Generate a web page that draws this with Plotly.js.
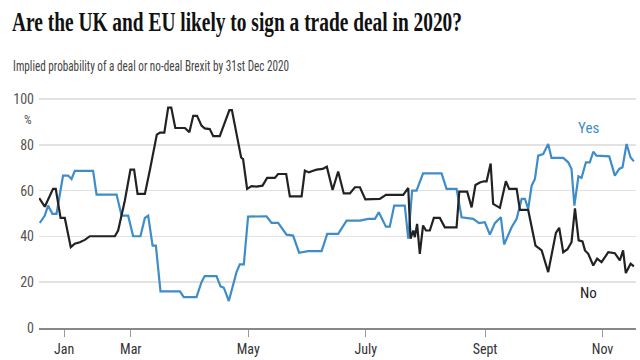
<!DOCTYPE html>
<html>
<head>
<meta charset="utf-8">
<script src="https://cdn.plot.ly/plotly-3.0.1.min.js"></script>
<style>
  html, body { margin: 0; padding: 0; background: #fff; }
  #chart { width: 640px; height: 360px; }
</style>
</head>
<body>
<div id="chart"></div>
<script>
// x values are days since 1 Jan 2020
const noDays = [12.4,15.3,19.6,21.0,23.5,25.7,28.8,30.9,33.5,36.1,38.7,51.7,53.4,56.9,59.8,61.7,63.5,67.3,69.9,73.5,75.2,77.4,79.4,81.0,83.1,88.1,90.4,92.4,94.4,96.7,98.4,101.0,102.8,106.2,111.2,112.5,117.3,118.3,120.4,122.7,125.3,128.4,130.8,134.8,136.5,140.7,142.6,148.7,150.4,152.5,154.7,156.5,159.6,161.8,164.8,167.7,170.6,173.8,176.4,179.0,181.8,189.3,192.5,201.5,204.1,205.3,206.7,207.5,208.7,210.1,211.8,213.3,215.3,217.4,220.5,223.1,229.2,230.6,234.7,237.0,239.0,241.3,243.4,244.8,246.9,248.2,251.7,254.8,256.5,260.4,262.1,266.4,270.2,273.4,276.8,280.8,282.5,284.6,286.8,288.9,290.7,292.6,294.6,295.9,297.6,300.2,302.2,304.5,308.0,311.4,314.0,315.7,317.1,319.6,321.3];
const noValues = [56.8,53,60.8,60.8,48.1,48.1,35.3,36.8,37.5,38.5,40.1,40.1,42.6,55.7,69.2,69.2,58.6,58.6,69,84.5,85.4,85.4,96.3,96.3,87.4,87.4,85.5,92.7,92.7,88.4,87.2,86.9,83.8,83.8,95.2,95.2,74.5,73.8,60.8,62,61.8,62.2,65.6,65.6,67.3,67.3,57.5,57.5,68.8,68,68.7,69.2,69.5,70.5,60.3,68.4,58.8,58.8,61.5,61.5,56.2,56.4,58.2,58.2,61.2,39,42.6,39.7,45.5,32.4,44.8,42.6,42.6,48.1,48.1,44,44,59.6,59.6,52.7,62.5,63.6,64.1,64.1,71.9,54.2,52.5,64.1,60.8,60.8,51.6,51.6,36,33.9,24.4,41.6,43.8,33.1,34.4,37.5,52.3,38.3,37.8,33.9,32.4,27.3,30.3,28.8,33.1,32.7,29.5,33.9,24,28.1,26.9];

const yesDays = [12.7,15.3,17.0,19.3,21.4,24.8,27.4,29.2,30.9,40.4,42.2,52.6,55.2,58.6,61.2,65.0,67.3,69.0,71.3,73.0,75.4,85.5,87.5,94.1,96.7,98.4,104.5,106.6,108.3,110.9,114.9,116.6,118.7,120.9,130.5,133.1,136.5,140.9,144.3,147.4,152.1,159.1,162.0,167.7,172.1,179.0,183.3,186.8,188.8,192.5,194.5,196.8,202.3,204.1,206.1,208.4,211.8,221.4,224.0,229.2,231.8,237.8,240.9,243.9,246.5,249.1,252.2,253.9,257.8,260.4,263.0,264.7,266.4,268.2,269.9,271.6,274.2,276.8,278.5,284.6,287.2,288.9,290.4,292.5,294.1,296.4,298.4,300.2,301.9,308.5,311.4,313.7,315.4,317.5,319.6,321.3];
const yesValues = [45.9,49.1,53.5,49.9,49.9,66.6,66.6,65.1,68.7,68.7,58.3,58.3,49.1,49.1,40.1,40.1,48.1,49.1,36,36,16,16,13.5,13.5,20,22.7,22.7,18.2,17.6,11.8,24.4,27.8,27.8,48.7,48.8,45.9,45.9,40.8,40.4,32.9,33.6,33.6,41.1,41.1,46.9,46.9,47.7,47.7,50.6,44.3,44.3,53.5,53.5,39,60,60,67.6,67.6,60.8,60.8,48.4,47.7,45.8,46.2,40.8,45.8,48.4,36.5,44,47.7,56.4,56.4,52,62.2,65.1,75.3,76,80.4,74.3,74.3,72.4,69.5,53.5,66.3,65.6,72.4,72.4,77,75.3,75,66.6,69.5,70.2,80.4,74.5,72.8];

const monthTickDays = [25.3, 60, 121, 182, 244, 305];
const monthTickLabels = ['Jan', 'Mar', 'May', 'July', 'Sept', 'Nov'];
const yTickVals = [0, 20, 40, 60, 80, 100];

const BLUE = '#3f8dc8';
const BLACK = '#222222';
const NARROW = '"Liberation Sans Narrow", "Roboto Condensed", "Liberation Sans", sans-serif';

const traces = [
  { x: yesDays, y: yesValues, type: 'scatter', mode: 'lines', name: 'Yes',
    line: { color: BLUE, width: 2.2 }, hoverinfo: 'skip' },
  { x: noDays, y: noValues, type: 'scatter', mode: 'lines', name: 'No',
    line: { color: BLACK, width: 2.2 }, hoverinfo: 'skip' }
];

const layout = {
  width: 640, height: 360,
  margin: { l: 39, r: 4, t: 98, b: 32 },
  paper_bgcolor: '#ffffff', plot_bgcolor: '#ffffff',
  showlegend: false,
  title: {
    text: 'Are the UK and EU likely to sign a trade deal in 2020?',
    font: { family: '"Liberation Serif", serif', size: 27, color: '#111', weight: 'bold' },
    xref: 'container', yref: 'container',
    x: 12 / 640, xanchor: 'left',
    y: 1 - 22 / 360, yanchor: 'middle'
  },
  xaxis: {
    type: 'linear', range: [12.3, 322.4],
    tickvals: monthTickDays, ticktext: monthTickLabels,
    showgrid: false, zeroline: false,
    showline: true, linecolor: '#888', linewidth: 2,
    ticks: 'outside', ticklen: 7, tickcolor: '#999', tickwidth: 1,
    tickfont: { family: NARROW, size: 14, color: '#333' },
    fixedrange: true
  },
  yaxis: {
    range: [0, 100.5], tickvals: yTickVals,
    showgrid: true, gridcolor: '#e2e2e2', gridwidth: 1.5,
    zeroline: false, showline: false, ticks: '',
    tickfont: { family: NARROW, size: 14, color: '#555' },
    ticklabelstandoff: 4,
    fixedrange: true
  },
  annotations: [
    { text: 'Implied probability of a deal or no-deal Brexit by 31st Dec 2020',
      xref: 'paper', yref: 'paper', x: (151 - 39) / 597, y: (328 - 66) / 230,
      xanchor: 'center', yanchor: 'middle', showarrow: false,
      font: { family: NARROW, size: 15, color: '#444' } },
    { text: '%', xref: 'paper', yref: 'paper', x: (28 - 39) / 597, y: (328 - 120) / 230,
      xanchor: 'center', yanchor: 'middle', showarrow: false,
      font: { family: NARROW, size: 12, color: '#555' } },
    { text: 'Yes', xref: 'paper', yref: 'paper', x: (588 - 39) / 597, y: (328 - 128) / 230,
      xanchor: 'center', yanchor: 'middle', showarrow: false,
      font: { family: NARROW, size: 15, color: BLUE } },
    { text: 'No', xref: 'paper', yref: 'paper', x: (588 - 39) / 597, y: (328 - 293) / 230,
      xanchor: 'center', yanchor: 'middle', showarrow: false,
      font: { family: NARROW, size: 15, color: BLACK } }
  ]
};

Plotly.newPlot('chart', traces, layout, { displayModeBar: false, staticPlot: true }).then(function () {
  const t = document.querySelector('.gtitle');
  if (t) { t.setAttribute('textLength', '450'); t.setAttribute('lengthAdjust', 'spacingAndGlyphs'); }
  const ann = document.querySelectorAll('.annotation-text');
  if (ann[0]) { ann[0].setAttribute('textLength', '276'); ann[0].setAttribute('lengthAdjust', 'spacingAndGlyphs'); }
});
</script>
</body>
</html>
